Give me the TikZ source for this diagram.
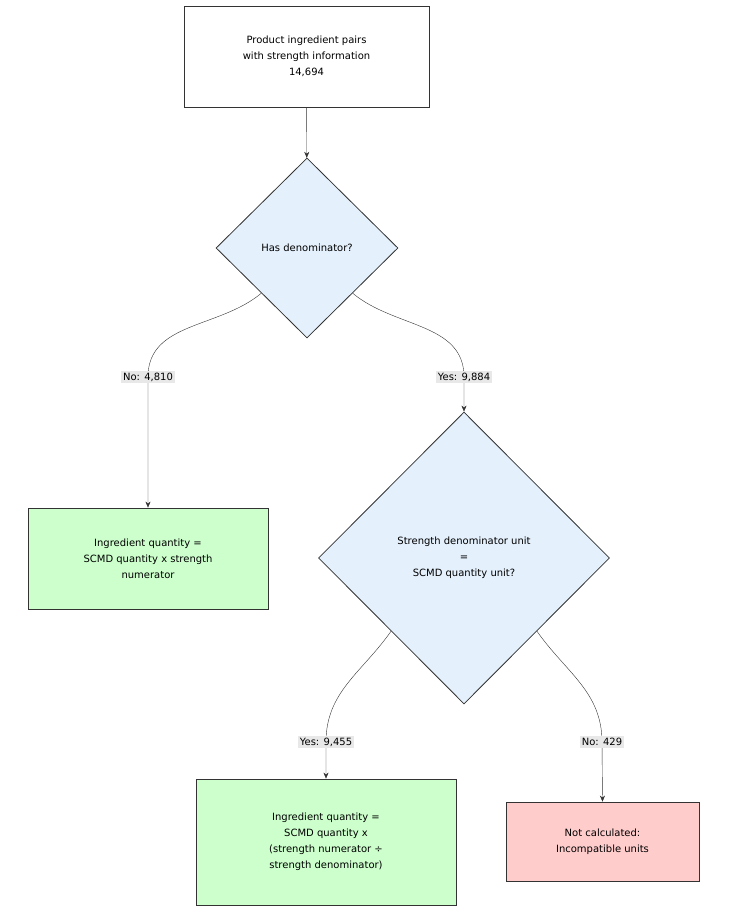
\documentclass[tikz,border=0pt]{standalone}
\usepackage{fontspec}
\setmainfont{DejaVu Sans}
\usetikzlibrary{shapes.geometric,arrows.meta}
\definecolor{decfill}{HTML}{E4F0FC}
\definecolor{okfill}{HTML}{CCFFCC}
\definecolor{badfill}{HTML}{FFCCCC}
\definecolor{lblfill}{HTML}{E8E8E8}
\definecolor{edge}{HTML}{333333}
\tikzset{
	box/.style={rectangle, draw=edge, thick, align=center, inner sep=0pt, font=\fontsize{10}{16}\selectfont},
	dec/.style={diamond, draw=edge, thick, fill=decfill, align=center, inner sep=0pt, font=\fontsize{10}{16}\selectfont},
	lbl/.style={fill=lblfill, inner sep=2pt, font=\fontsize{10}{12}\selectfont},
	arr/.style={-{Stealth[length=6pt,width=5pt]}, draw=edge}
}
\begin{document}
\begin{tikzpicture}[x=1pt,y=-1pt]
	\useasboundingbox (0,0) rectangle (729,911);
	\node at (306.5,56.5) [box, minimum width=245, minimum height=101] (src) {Product ingredient pairs\\with strength information\\14,694};
	\node at (307,248) [dec, minimum width=182, minimum height=180] (d1) {Has denominator?};
	\node at (148,558.5) [box, fill=okfill, minimum width=240, minimum height=101] (g1) {Ingredient quantity =\\SCMD quantity x strength\\numerator};
	\node at (464,558) [dec, minimum width=291, minimum height=292] (d2) {Strength denominator unit\\=\\SCMD quantity unit?};
	\node at (326,842) [box, fill=okfill, minimum width=260, minimum height=126] (g2) {Ingredient quantity =\\SCMD quantity x\\(strength numerator ÷\\strength denominator)};
	\node at (602.5,841.5) [box, fill=badfill, minimum width=193, minimum height=79] (bad) {Not calculated:\\Incompatible units};
	
	\coordinate (c1) at (148,377);
	\coordinate (c2) at (464,377);
	\coordinate (c3) at (326,742);
	\coordinate (c4) at (602,742);
	
	\draw [arr] (src) -- (d1);
	\draw [arr] (d1.south west) to[out=-140,in=90] (c1) -- (g1.north);
	\draw [arr] (d1.south east) to[out=-40,in=90] (c2) -- (d2.north);
	\draw [arr] (d2.south west) to[out=-125,in=90] (c3) -- (g2.north);
	\draw [arr] (d2.south east) to[out=-55,in=90] (c4) -- (bad.north);
	
	\node at (c1) [lbl] (l1) {No: 4,810};
	\node at (c2) [lbl] (l2) {Yes: 9,884};
	\node at (c3) [lbl] (l3) {Yes: 9,455};
	\node at (c4) [lbl] (l4) {No: 429};
\end{tikzpicture}
\end{document}
